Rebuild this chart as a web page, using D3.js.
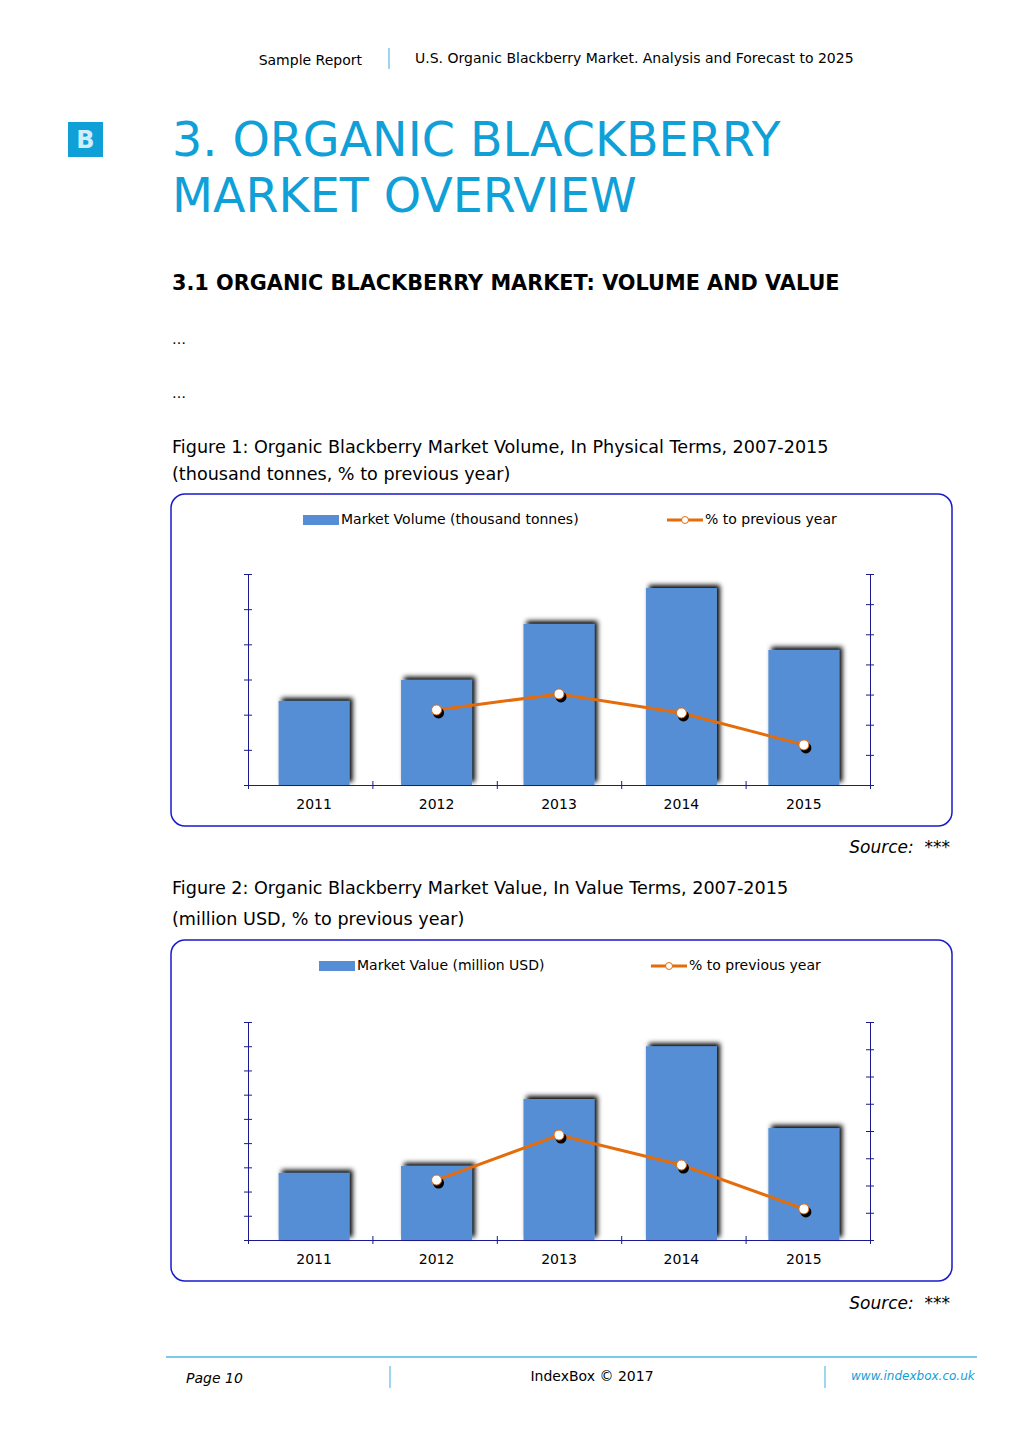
<!DOCTYPE html><html><head><meta charset="utf-8"><script src="https://cdn.jsdelivr.net/npm/d3@7"></script>
<style>body{margin:0;background:#fff}svg{display:block;font-family:Verdana,"DejaVu Sans",sans-serif}</style></head><body><svg id="s" width="1024" height="1449"></svg>
<script>
const years=["2011","2012","2013","2014","2015"];
const volume=[2.39,2.99,4.58,5.6,3.84];
const volumePct=[null,2.49,3.02,2.39,1.33];
const value=[2.77,3.06,5.82,8.0,4.62];
const valuePct=[null,2.2,3.85,2.75,1.14];
const svg=d3.select("#s");
const blue="#0fa0d8";
svg.append("text").attr("x",362).attr("y",65).attr("text-anchor","end").attr("font-size",14).text("Sample Report");
svg.append("line").attr("x1",389).attr("x2",389).attr("y1",48).attr("y2",69).attr("stroke","#7ec8e8").attr("stroke-width",1.5);
svg.append("text").attr("x",415).attr("y",63).attr("font-size",14).text("U.S. Organic Blackberry Market. Analysis and Forecast to 2025");
svg.append("rect").attr("x",68).attr("y",122).attr("width",35).attr("height",35).attr("fill",blue);
svg.append("text").attr("x",85.5).attr("y",148).attr("text-anchor","middle").attr("fill","#cfeefa").attr("font-size",24).attr("font-weight","bold").text("B");
svg.append("text").attr("x",172).attr("y",156).attr("fill",blue).attr("font-size",47.5).text("3. ORGANIC BLACKBERRY");
svg.append("text").attr("x",172).attr("y",212).attr("fill",blue).attr("font-size",47.5).text("MARKET OVERVIEW");
svg.append("text").attr("x",172).attr("y",290).attr("font-size",20.8).attr("font-weight","bold").text("3.1 ORGANIC BLACKBERRY MARKET: VOLUME AND VALUE");
svg.append("text").attr("x",172).attr("y",344).attr("font-size",14).text("…");
svg.append("text").attr("x",172).attr("y",398).attr("font-size",14).text("…");
const cap=[[453,"Figure 1: Organic Blackberry Market Volume, In Physical Terms, 2007-2015"],[480,"(thousand tonnes, % to previous year)"],[894,"Figure 2: Organic Blackberry Market Value, In Value Terms, 2007-2015"],[925,"(million USD, % to previous year)"]];
cap.forEach(c=>svg.append("text").attr("x",172).attr("y",c[0]).attr("font-size",17.6).text(c[1]));
[853,1309].forEach(y=>svg.append("text").attr("x",950).attr("y",y).attr("text-anchor","end").attr("font-size",17).attr("font-style","italic").attr("xml:space","preserve").text("Source:  ***"));
svg.append("line").attr("x1",166).attr("x2",977).attr("y1",1357).attr("y2",1357).attr("stroke","#7ec8e8").attr("stroke-width",2);
svg.append("text").attr("x",186).attr("y",1383).attr("font-size",14).attr("font-style","italic").text("Page 10");
svg.append("text").attr("x",592).attr("y",1381).attr("text-anchor","middle").attr("font-size",14).text("IndexBox © 2017");
[390,825].forEach(x=>svg.append("line").attr("x1",x).attr("x2",x).attr("y1",1366).attr("y2",1388).attr("stroke","#7ec8e8").attr("stroke-width",1.5));
svg.append("text").attr("x",851).attr("y",1380).attr("font-size",12).attr("font-style","italic").attr("fill",blue).text("www.indexbox.co.uk");
svg.append("rect").attr("x",977).attr("y",1360).attr("width",47).attr("height",40).attr("fill","#fff");

const defs=svg.append("defs");
const f=defs.append("filter").attr("id","sh").attr("x","-20%").attr("y","-20%").attr("width","150%").attr("height","150%");
f.append("feGaussianBlur").attr("in","SourceAlpha").attr("stdDeviation",2.5);
f.append("feOffset").attr("dx",3).attr("dy",-3).attr("result","b");
const m=f.append("feMerge");m.append("feMergeNode").attr("in","b");m.append("feMergeNode").attr("in","SourceGraphic");

function chart(top,h,axTop,axBot,vals,pct,lmax,rmax,legName,legX,leg2X){
  svg.append("rect").attr("x",171).attr("y",top).attr("width",781).attr("height",h).attr("rx",14).attr("fill","none").attr("stroke","#1a1acc").attr("stroke-width",1.5);
  const x=d3.scaleBand().domain(years).range([248,870]).paddingInner(0.42).paddingOuter(0.25);
  const yl=d3.scaleLinear().domain([0,lmax]).range([axBot,axTop]);
  const yr=d3.scaleLinear().domain([0,rmax]).range([axBot,axTop]);
  const ly=top+27;
  svg.append("rect").attr("x",legX).attr("y",ly-6).attr("width",36).attr("height",10).attr("fill","#558ed5");
  svg.append("text").attr("x",legX+38).attr("y",ly+3).attr("font-size",14).text(legName);
  svg.append("line").attr("x1",leg2X).attr("x2",leg2X+36).attr("y1",ly-1).attr("y2",ly-1).attr("stroke","#e46c0a").attr("stroke-width",3);
  svg.append("circle").attr("cx",leg2X+18).attr("cy",ly-1).attr("r",3.5).attr("fill","#fff").attr("stroke","#e46c0a");
  svg.append("text").attr("x",leg2X+38).attr("y",ly+3).attr("font-size",14).text("% to previous year");
  svg.append("g").selectAll("rect").data(vals).join("rect").attr("x",(d,i)=>x(years[i])).attr("width",x.bandwidth()).attr("y",d=>yl(d)).attr("height",d=>axBot-yl(d)).attr("fill","#558ed5").attr("filter","url(#sh)");
  const ax=c=>c.attr("color","#1a1a8c").call(g=>g.select(".domain").attr("stroke","#1a1a8c"));
  svg.append("g").attr("transform",`translate(248,0)`).call(d3.axisLeft(yl).ticks(lmax).tickSize(4).tickFormat("")).call(ax).selectAll(".tick line").attr("x2",4).attr("x1",-4);
  svg.append("g").attr("transform",`translate(870,0)`).call(d3.axisRight(yr).ticks(rmax).tickSize(4).tickFormat("")).call(ax).selectAll(".tick line").attr("x1",-4).attr("x2",4);
  const xb=d3.scaleLinear().domain([0,5]).range([248,870]);
  const gx=svg.append("g").attr("transform",`translate(0,${axBot})`).call(d3.axisBottom(xb).ticks(5).tickSize(4).tickFormat("")).call(ax);
  gx.selectAll(".tick line").attr("y1",-4).attr("y2",4);
  years.forEach(yv=>svg.append("text").attr("x",x(yv)+x.bandwidth()/2).attr("y",axBot+24).attr("text-anchor","middle").attr("font-size",14).text(yv));
  const pts=pct.map((d,i)=>[x(years[i])+x.bandwidth()/2,d]).filter(d=>d[1]!=null);
  svg.append("path").datum(pts).attr("d",d3.line().x(d=>d[0]).y(d=>yr(d[1]))).attr("fill","none").attr("stroke","#e46c0a").attr("stroke-width",3);
  svg.append("g").selectAll("circle").data(pts).join("circle").attr("cx",d=>d[0]+2).attr("cy",d=>yr(d[1])+3).attr("r",5.5).attr("fill","#000");
  svg.append("g").selectAll("circle").data(pts).join("circle").attr("cx",d=>d[0]).attr("cy",d=>yr(d[1])).attr("r",5).attr("fill","#fff").attr("stroke","#e46c0a").attr("stroke-width",1);
}
chart(494,332,574,785,volume,volumePct,6,7,"Market Volume (thousand tonnes)",303,667);
chart(940,341,1022,1240,value,valuePct,9,8,"Market Value (million USD)",319,651);
</script></body></html>
